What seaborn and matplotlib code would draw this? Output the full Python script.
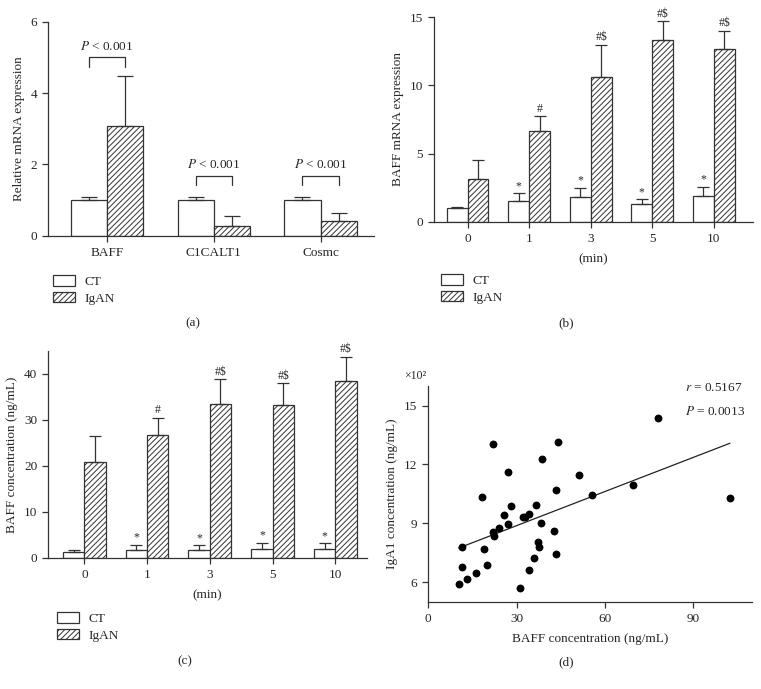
import numpy as np
import pandas as pd
import matplotlib
matplotlib.use("Agg")
import matplotlib.pyplot as plt
import matplotlib.patches as mpatches
import seaborn as sns

# ---------------- data ----------------
groups = ["CT", "IgAN"]

cats_a = ["BAFF", "C1CALT1", "Cosmc"]
a_ct = [1.0, 1.0, 1.0]
a_ct_err = [0.09, 0.09, 0.09]
a_igan = [3.08, 0.28, 0.40]
a_igan_err = [1.41, 0.28, 0.25]
a_ptext = ["P < 0.001", "P < 0.001", "P < 0.001"]
a_bracket_y = [5.0, 1.68, 1.68]

times = ["0", "1", "3", "5", "10"]
b_ct = [0.98, 1.49, 1.83, 1.30, 1.86]
b_ct_err = [0.12, 0.59, 0.66, 0.34, 0.68]
b_igan = [3.10, 6.68, 10.59, 13.35, 12.64]
b_igan_err = [1.40, 1.05, 2.40, 1.35, 1.37]

c_ct = [1.23, 1.66, 1.73, 1.95, 1.88]
c_ct_err = [0.57, 1.23, 1.01, 1.37, 1.30]
c_igan = [20.87, 26.71, 33.43, 33.29, 38.48]
c_igan_err = [5.56, 3.76, 5.41, 4.69, 5.20]

ct_marks = ["", "*", "*", "*", "*"]
igan_marks = ["", "#", "#$", "#$", "#$"]

baff = [10.3, 11.3, 11.6, 13.3, 16.2, 18.1, 18.8, 19.8, 21.9, 22.1, 22.4, 23.9,
        25.6, 27.0, 27.2, 28.2, 31.1, 32.3, 33.0, 34.3, 34.4, 35.9, 36.7, 37.3,
        37.5, 38.2, 38.6, 42.9, 43.4, 43.5, 44.1, 51.2, 55.8, 69.6, 78.0, 102.6]
iga1 = [5.88, 7.78, 6.78, 6.17, 6.46, 10.36, 7.71, 6.86, 13.05, 8.54, 8.37, 8.75,
        9.42, 8.95, 11.61, 9.88, 5.69, 9.31, 9.34, 9.47, 6.63, 7.25, 9.92, 8.03,
        7.78, 9.03, 12.27, 8.63, 10.69, 7.44, 13.15, 11.46, 10.46, 10.95, 14.36, 10.29]

# ---------------- style ----------------
sns.set_style("ticks")
plt.rcParams["font.family"] = ["Liberation Serif", "DejaVu Serif"]
plt.rcParams["mathtext.fontset"] = "stix"
plt.rcParams["hatch.linewidth"] = 0.7
plt.rcParams["hatch.color"] = "#333333"
EC = "#333333"
FS = 9.5
MFS = 8.5
HATCH = "//////"

W, H = 761, 689
fig = plt.figure(figsize=(W / 100, H / 100), dpi=100)


def ax_at(left, top, right, bottom):
    return fig.add_axes([left / W, 1 - bottom / H, (right - left) / W, (bottom - top) / H])


def style_axes(ax):
    for s in ["top", "right"]:
        ax.spines[s].set_visible(False)
    for s in ["left", "bottom"]:
        ax.spines[s].set_color(EC)
        ax.spines[s].set_linewidth(0.9)
    ax.tick_params(axis="both", direction="out", length=4, width=0.9, color=EC,
                   labelsize=FS, pad=4)


def bar_panel(ax, cats, ct, ct_err, ig, ig_err, capsize):
    df = pd.DataFrame({
        "cat": list(cats) * 2,
        "val": list(ct) + list(ig),
        "grp": ["CT"] * len(cats) + ["IgAN"] * len(cats),
    })
    sns.barplot(data=df, x="cat", y="val", hue="grp", order=cats, hue_order=groups,
                palette={"CT": "white", "IgAN": "white"}, width=0.68, saturation=1,
                edgecolor=EC, linewidth=0.9, errorbar=None, legend=False, ax=ax)
    tops = []
    for k, (cont, err) in enumerate(zip(ax.containers, [ct_err, ig_err])):
        xs = [b.get_x() + b.get_width() / 2 for b in cont]
        hs = [b.get_height() for b in cont]
        if k == 1:
            for b in cont:
                b.set_hatch(HATCH)
        ax.errorbar(xs, hs, yerr=[np.zeros(len(err)), err], fmt="none", ecolor=EC,
                    elinewidth=0.9, capsize=capsize, capthick=0.9, zorder=1)
        tops.append((xs, [h + e for h, e in zip(hs, err)]))
    style_axes(ax)
    return tops


def add_legend(x_left, y_top):
    handles = [mpatches.Patch(facecolor="white", edgecolor=EC, linewidth=0.9),
               mpatches.Patch(facecolor="white", edgecolor=EC, linewidth=0.9, hatch=HATCH)]
    fig.legend(handles, groups, loc="upper left", bbox_to_anchor=(x_left / W, 1 - y_top / H),
               frameon=False, borderpad=0, borderaxespad=0, handlelength=1.7,
               handleheight=0.85, handletextpad=0.7, labelspacing=0.3, fontsize=FS)


def add_marks(ax, tops):
    for (xs, ts), marks in zip(tops, [ct_marks, igan_marks]):
        for x, t, m in zip(xs, ts, marks):
            if m:
                ax.annotate(m, (x, t), xytext=(0, 1), textcoords="offset points",
                            ha="center", va="bottom", fontsize=MFS)


# ---------------- panel (a) ----------------
axa = ax_at(48.3, 21.7, 374, 235.7)
tops = bar_panel(axa, cats_a, a_ct, a_ct_err, a_igan, a_igan_err, capsize=6)
axa.set_xlim(-0.55, 2.5)
axa.set_ylim(0, 6)
axa.set_yticks([0, 2, 4, 6])
axa.set_xlabel("")
axa.set_ylabel("Relative mRNA expression", fontsize=FS)
for i in range(len(cats_a)):
    x0, x1 = tops[0][0][i], tops[1][0][i]
    yb = a_bracket_y[i]
    axa.plot([x0, x0, x1, x1], [yb - 0.26, yb, yb, yb - 0.26], color=EC, lw=0.9)
    axa.text((x0 + x1) / 2, yb + 0.12, r"$P$ < 0.001", ha="center", va="bottom", fontsize=FS)
add_legend(53, 275)
fig.text(193 / W, 1 - 323 / H, "(a)", ha="center", va="center", fontsize=FS)

# ---------------- panel (b) ----------------
axb = ax_at(434.3, 17.3, 752.7, 221.7)
tops = bar_panel(axb, times, b_ct, b_ct_err, b_igan, b_igan_err, capsize=4)
axb.set_xlim(-0.54, 4.63)
axb.set_ylim(0, 15)
axb.set_yticks([0, 5, 10, 15])
axb.set_xlabel("(min)", fontsize=FS, labelpad=6)
axb.set_ylabel("BAFF mRNA expression", fontsize=FS)
add_marks(axb, tops)
add_legend(440.7, 274)
fig.text(566 / W, 1 - 323 / H, "(b)", ha="center", va="center", fontsize=FS)

# ---------------- panel (c) ----------------
axc = ax_at(48.3, 350.7, 366.7, 558)
tops = bar_panel(axc, times, c_ct, c_ct_err, c_igan, c_igan_err, capsize=4)
axc.set_xlim(-0.574, 4.5)
axc.set_ylim(0, 45)
axc.set_yticks([0, 10, 20, 30, 40])
axc.set_xlabel("(min)", fontsize=FS, labelpad=6)
axc.set_ylabel("BAFF concentration (ng/mL)", fontsize=FS)
add_marks(axc, tops)
add_legend(56.7, 612)
fig.text(185 / W, 1 - 661 / H, "(c)", ha="center", va="center", fontsize=FS)

# ---------------- panel (d) ----------------
axd = ax_at(428.3, 386, 751.7, 601.7)
dfd = pd.DataFrame({"baff": baff, "iga1": iga1})
sns.regplot(data=dfd, x="baff", y="iga1", scatter=False, ci=None, truncate=True,
            line_kws={"color": "#222222", "lw": 0.9}, ax=axd)
sns.scatterplot(data=dfd, x="baff", y="iga1", color="black", s=32, edgecolor="black",
                linewidth=0, ax=axd, zorder=3)
axd.set_xlim(0, 110)
axd.set_ylim(5, 16)
axd.set_xticks([0, 30, 60, 90])
axd.set_yticks([6, 9, 12, 15])
style_axes(axd)
axd.set_xlabel("BAFF concentration (ng/mL)", fontsize=FS, labelpad=6)
axd.set_ylabel("IgA1 concentration (ng/mL)", fontsize=FS)
axd.text(-0.005, 1.02, "×10²", transform=axd.transAxes, ha="right", va="bottom", fontsize=8.5)
axd.text(0.794, 0.989, r"$r$ = 0.5167", transform=axd.transAxes, ha="left", va="center", fontsize=FS)
axd.text(0.794, 0.881, r"$P$ = 0.0013", transform=axd.transAxes, ha="left", va="center", fontsize=FS)
fig.text(566 / W, 1 - 662 / H, "(d)", ha="center", va="center", fontsize=FS)

fig.savefig("out.png", dpi=100)
